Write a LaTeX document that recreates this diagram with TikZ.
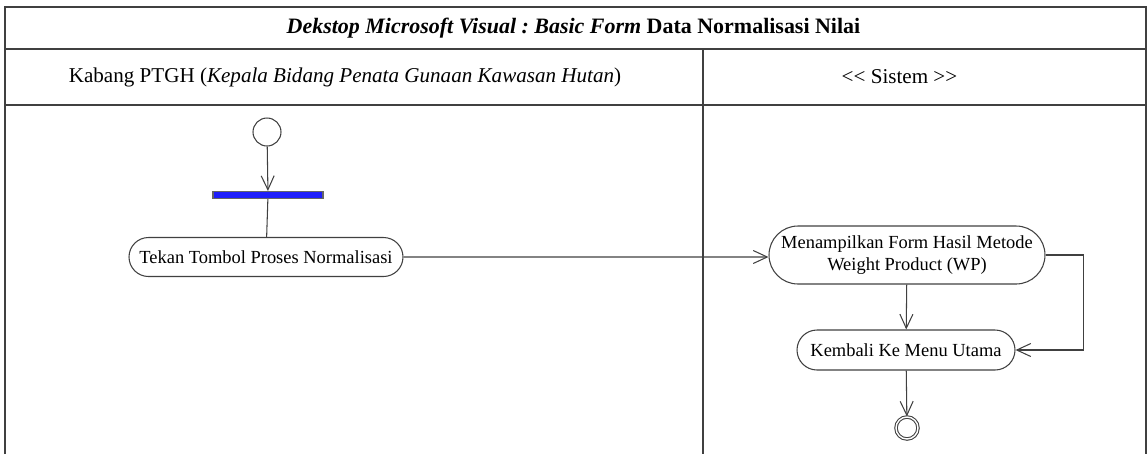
\documentclass[tikz,border=0pt]{standalone}
\usepackage{fontspec}
\setmainfont{Liberation Serif}
\usetikzlibrary{arrows.meta,shapes.misc}
\definecolor{forkblue}{RGB}{30,30,250}
\frenchspacing

\begin{document}
\begin{tikzpicture}[
  line width=0.6pt, draw=black!75,
  act/.style={draw=black!75, rounded rectangle, inner sep=0pt, font=\fontsize{10.5}{12.5}\selectfont, align=center},
  flow/.style={draw=black!75, -{Straight Barb[length=2.8mm,width=2.6mm]}}]
\useasboundingbox (0,0) rectangle (22.94,-9.08);
% lanes
\draw[black!75]
(0.1,-9.08) -- (0.1,-0.14) -- (22.92,-0.14) -- (22.92,-9.08)
(0.1,-0.98) -- (22.92,-0.98)
(0.1,-2.1) -- (22.92,-2.1)
(14.06,-0.98) -- (14.06,-9.08);
\node[font=\fontsize{12.5}{14}\selectfont\bfseries] (title) at (11.47,-0.56)
  {\textit{Dekstop Microsoft Visual : Basic Form} Data Normalisasi Nilai};
\node[font=\fontsize{12}{14}\selectfont] (lane1) at (6.9,-1.54)
  {Kabang PTGH (\textit{Kepala Bidang Penata Gunaan Kawasan Hutan})};
\node[font=\fontsize{12}{14}\selectfont] (lane2) at (17.99,-1.54)
  {\textless\kern0pt\textless{} Sistem \textgreater\kern0pt\textgreater};
% states
\node[draw=black!75, circle, minimum size=0.56cm, inner sep=0pt] (start) at (5.34,-2.64) {};
\node[draw=black!60, fill=forkblue, minimum width=2.2cm, minimum height=0.14cm, inner sep=0pt] (fork) at (5.36,-3.9) {};
\node[act, minimum width=5.48cm, minimum height=0.78cm] (tekan) at (5.32,-5.14) {Tekan Tombol Proses Normalisasi};
\node[act, minimum width=5.52cm, minimum height=1.16cm] (tampil) at (18.14,-5.1) {Menampilkan Form Hasil Metode\\Weight Product (WP)};
\node[act, minimum width=4.36cm, minimum height=0.8cm] (kembali) at (18.12,-7.0) {Kembali Ke Menu Utama};
\node[draw=black!75, circle, double, double distance=0.8pt, minimum size=0.44cm, inner sep=0pt] (end) at (18.14,-8.56) {};
% flows
\draw[flow] (start) -- (fork);
\draw (fork) -- (tekan);
\draw[flow] (tekan) -- (tekan -| tampil.west);
\draw[flow] (tampil) -- (kembali);
\draw[flow] (tampil.east) -- ++(0.76,0) |- (kembali.east);
\draw[flow] (kembali) -- (end);
\end{tikzpicture}
\end{document}
